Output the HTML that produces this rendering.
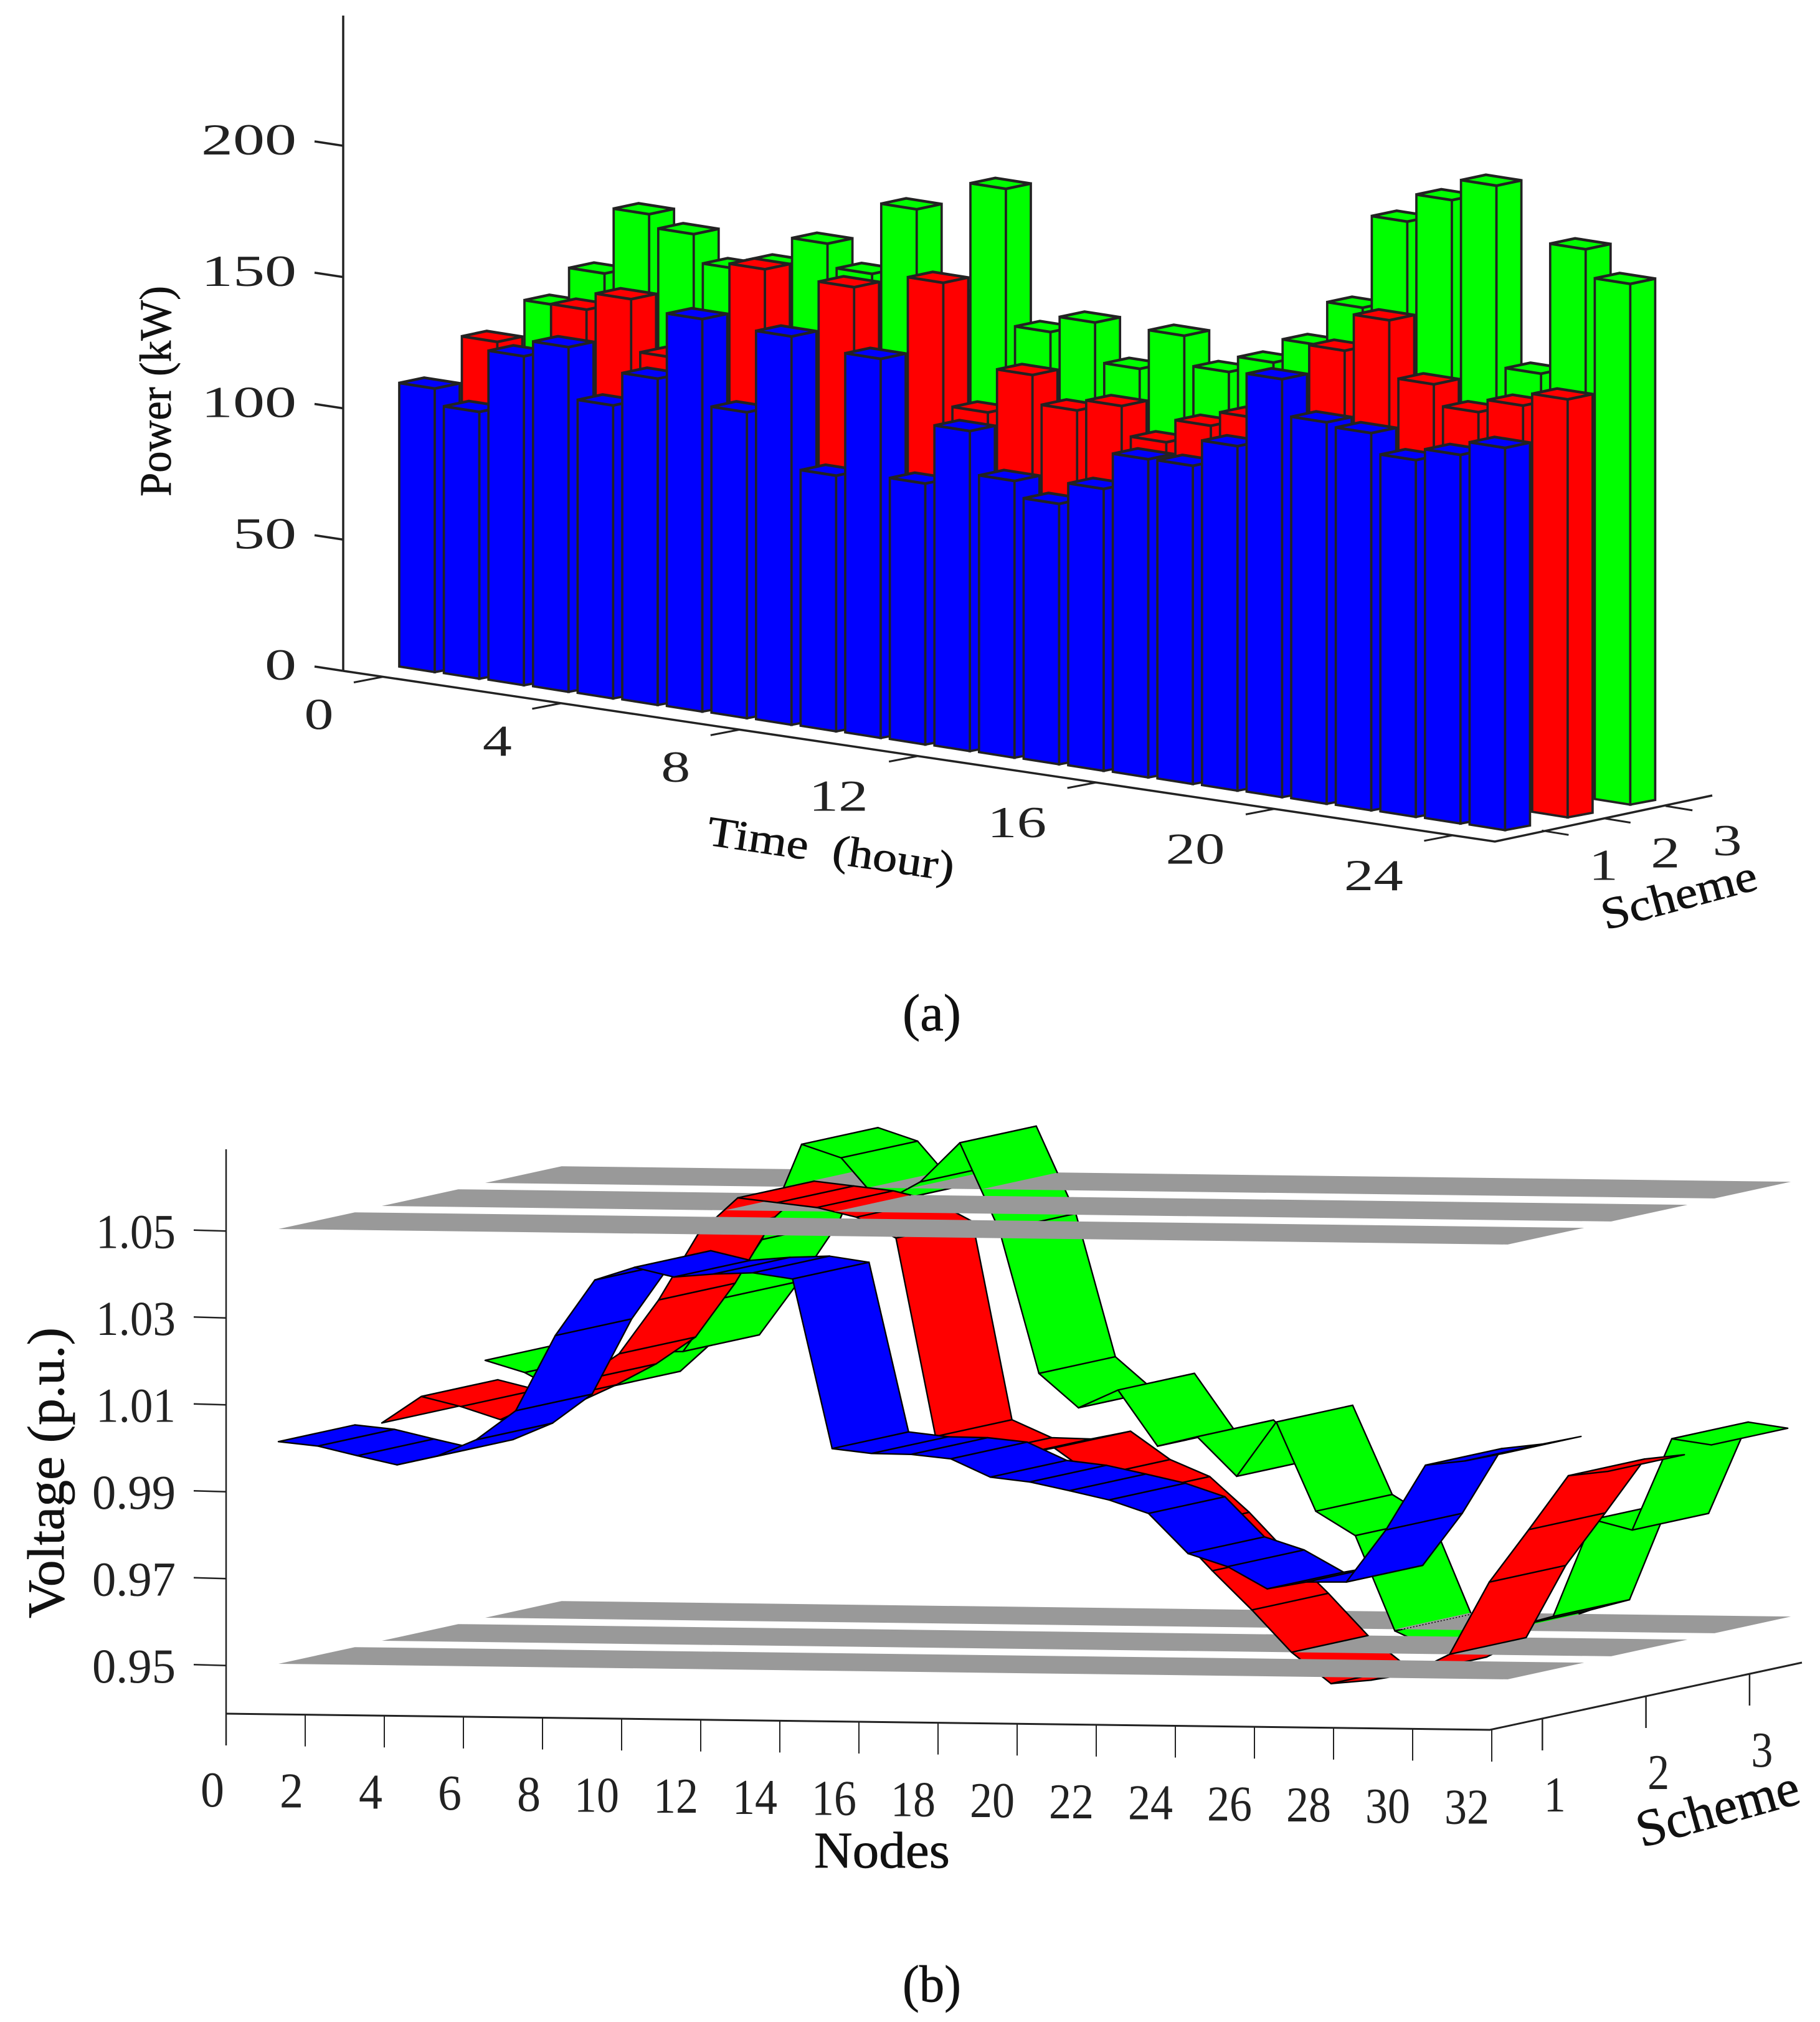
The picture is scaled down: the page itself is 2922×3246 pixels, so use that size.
<!DOCTYPE html>
<html lang="en">
<head>
<meta charset="utf-8">
<title>Power and voltage by scheme</title>
<style>
html,body{margin:0;padding:0;background:#fff;}
svg{display:block;}
text{font-family:"Liberation Serif",serif;fill:#222;}
.t{fill:#111;stroke:#111;stroke-width:0.7;}
</style>
</head>
<body>
<svg id="figure" xmlns="http://www.w3.org/2000/svg" width="2922" height="3246" viewBox="0 0 2922 3246">
  <rect width="2922" height="3246" fill="#fff"/>
  <g id="chartA"></g>
  <g id="chartB"></g>
  <text class="t" font-size="72" textLength="338" lengthAdjust="spacingAndGlyphs" transform="translate(274,797) rotate(-90)">Power (kW)</text>
  <text class="t" font-size="68" textLength="400" lengthAdjust="spacingAndGlyphs" xml:space="preserve" transform="translate(1133,1356) rotate(8.4)">Time  (hour)</text>
  <text class="t" font-size="72" textLength="256" lengthAdjust="spacingAndGlyphs" transform="translate(2578,1493) rotate(-15)">Scheme</text>
  <text class="t" font-size="84" textLength="94" lengthAdjust="spacingAndGlyphs" x="1449" y="1654">(a)</text>
  <text class="t" font-size="84" textLength="467" lengthAdjust="spacingAndGlyphs" transform="translate(102,2598) rotate(-90)">Voltage (p.u.)</text>
  <text class="t" font-size="83" textLength="218" lengthAdjust="spacingAndGlyphs" x="1307" y="2998">Nodes</text>
  <text class="t" font-size="84" textLength="268" lengthAdjust="spacingAndGlyphs" transform="translate(2636,2966) rotate(-15.6)">Scheme</text>
  <text class="t" font-size="84" textLength="94" lengthAdjust="spacingAndGlyphs" x="1449" y="3213">(b)</text>
</svg>
<script>
/* ---------- Panel (a) data ---------- */
const hourCategories = [1,2,3,4,5,6,7,8,9,10,11,12,13,14,15,16,17,18,19,20,21,22,23,24,25];
const powerScheme1 = [108,101.6,125.3,131.3,111.6,124.3,149.5,116.5,147.9,97.4,144.4,99.4,121.9,105.4,99.2,107.4,121.2,121.2,131.2,159.2,145.3,143.7,135.9,140.4,145.6];
const powerScheme2 = [120.9,109,138.2,144.7,124.8,123.9,163.6,126.6,161.8,124.4,168.5,121.6,138.4,127.4,131.6,120.3,129.1,134.6,142.3,165.2,179.3,157.4,149.3,154.3,159.2];
const powerScheme3 = [129.8,144.6,169.7,164.6,153.8,157.7,168.5,159.5,186.6,155.2,199.4,147.4,153.5,138.4,153.5,142.2,148.3,157.5,174.2,209.5,220.2,228.2,159.1,209,198.3];
const powerTicks = [0,50,100,150,200];
const timeTicks = [0,4,8,12,16,20,24];
const schemeTicks = [1,2,3];

/* ---------- Panel (b) data ---------- */
const nodeCategories = [1,2,3,4,5,6,7,8,9,10,11,12,13,14,15,16,17,18,19,20,21,22,23,24,25,26,27,28,29,30,31,32];
const voltageScheme1 = [1.0011,1.0002,0.9981,0.9961,0.9982,1.0021,1.0089,1.0263,1.0392,1.0422,1.0401,1.0409,1.0413,1.04,1.0011,1.0001,1.0,0.9991,0.995,0.994,0.9921,0.9901,0.9871,0.978,0.9751,0.9701,0.9718,0.9719,0.984,0.999,1.0001,1.002];
const voltageScheme2 = [1.0001,1.0063,1.0041,1.0012,1.0055,1.0104,1.0167,1.0292,1.0445,1.0529,1.0519,1.0509,1.0488,1.0441,0.9986,0.9946,0.9944,0.9963,0.9899,0.9861,0.978,0.9685,0.9596,0.95,0.9429,0.9438,0.9454,0.95,0.9667,0.9789,0.9914,0.9925];
const voltageScheme3 = [1.0092,1.0065,1.0017,1.0032,1.0115,1.0118,1.0242,1.0378,1.0598,1.0568,1.0464,1.0515,1.0606,1.0406,1.0078,1.0,1.0042,0.9914,0.9937,0.9847,0.9973,0.9769,0.9714,0.9496,0.9455,0.9476,0.9509,0.9534,0.9758,0.9735,0.9946,0.9933];
const voltageTicks = [1.05,1.03,1.01,0.99,0.97,0.95];
const voltageLabels = ['1.05','1.03','1.01','0.99','0.97','0.95'];
const nodeTicks = [0,2,4,6,8,10,12,14,16,18,20,22,24,26,28,30,32];
const voltageLimits = [0.95,1.05];

const SVGNS = 'http://www.w3.org/2000/svg';
function make(tag, parent, attrs, txt) {
  const el = document.createElementNS(SVGNS, tag);
  for (const k in attrs) el.setAttribute(k, attrs[k]);
  if (txt !== undefined) el.textContent = txt;
  if (parent) parent.appendChild(el);
  return el;
}
const INK = '#222';
const pts = a => a.map(p => p[0].toFixed(1) + ',' + p[1].toFixed(1)).join(' ');

/* ---------- Panel (a) axes ---------- */
const A = document.getElementById('chartA');
const powerY = v => 1077 - v * 4.215;
const floorAY = x => 1077 + 0.148 * (x - 551);
const timeX = h => 615 + 71.6 * h;
const schemeAX = s => 2376 + 99.4 * s;
const schemeAY = s => 1353 - 19.7 * s;
const barLeft = (h, s) => 641 + 71.6 * (h - 1) + 100.5 * s;
const barBase = (h, s) => 1070 + 10.57 * (h - 1) - 20.5 * s;
const barPx = v => v * 4.215;

let el = make('line', A, {x1:551,y1:25,x2:551,y2:1077,stroke:INK,'stroke-width':3.5});


el = make('polyline', A, {points:pts([[551,1077],[2400,1351],[2749,1277]]),fill:'none',stroke:INK,'stroke-width':3.5});



powerTicks.forEach(v => {
  const y = powerY(v);
  const t = make('line', A, {x1:505,y1:y-7,x2:551,y2:y,stroke:INK,'stroke-width':3.5});
  
  
  const s = String(v);
  const l = make('text', A, {x:476,y:y+14,'font-size':71,'text-anchor':'end',textLength:s.length*51,lengthAdjust:'spacingAndGlyphs'}, s);
  
  
});
timeTicks.forEach(h => {
  const x = timeX(h), y = floorAY(x);
  const t = make('line', A, {x1:x,y1:y,x2:x-47,y2:y+9,stroke:INK,'stroke-width':3});
  
  
  const s = String(h);
  const two = s.length > 1;
  const l = make('text', A, {x:x-(two?128:103),y:y+(two?88:84),'font-size':71,'text-anchor':'middle',textLength:two?95:47,lengthAdjust:'spacingAndGlyphs'}, s);
  
  
});
schemeTicks.forEach(k => {
  const x = schemeAX(k), y = schemeAY(k);
  const t = make('line', A, {x1:x,y1:y,x2:x+43,y2:y+7,stroke:INK,'stroke-width':3});
  
  
  const l = make('text', A, {x:x+99,y:y+79,'font-size':71,'text-anchor':'middle',textLength:47,lengthAdjust:'spacingAndGlyphs'}, String(k));
  
  
});

/* ---------- Panel (a) bars ---------- */
const powerSeries = [powerScheme1, powerScheme2, powerScheme3];
const seriesColors = ['#0000ff', '#ff0000', '#00ff00'];
[2, 1, 0].forEach(s => {
  hourCategories.forEach((h, idx) => {
    const v = powerSeries[s][idx];
    const x = barLeft(h, s), b = barBase(h, s), t = b - barPx(v);
    const g = make('g', A, {fill:seriesColors[s],stroke:INK,'stroke-width':3.7,'stroke-linejoin':'miter'});
    
    
    make('polygon', g, {points:pts([[x,t],[x+57,t+9],[x+57,b+9],[x,b]])});
    make('polygon', g, {points:pts([[x+57,t+9],[x+97,t+0.5],[x+97,b+1.5],[x+57,b+9]])});
    make('polygon', g, {'stroke-width':4.4,points:pts([[x,t],[x+57,t+9],[x+97,t+0.5],[x+40,t-8.5]])});
  });
});

/* ---------- Panel (b) axes ---------- */
const B = document.getElementById('chartB');
const voltY = v => 2673 - (v - 0.95) * 6975;
const nodeAxisX = n => 363 + 63.5 * n;
const floorBY = x => 2751 + 0.0128 * (x - 363);
const schemeBX = k => 2310 + 166.3 * k;
const schemeBY = k => 2795 - 36 * k;

el = make('line', B, {x1:363,y1:1845,x2:363,y2:2802,stroke:INK,'stroke-width':2.5});


el = make('polyline', B, {points:pts([[363,2751],[2392,2777],[2893,2669]]),fill:'none',stroke:INK,'stroke-width':3});



voltageTicks.forEach((v, i) => {
  const y = voltY(v);
  const t = make('line', B, {x1:311,y1:y-0.7,x2:363,y2:y+0.7,stroke:INK,'stroke-width':2.5});
  
  
  const l = make('text', B, {x:282,y:y+28,'font-size':78,'text-anchor':'end',textLength:v<1?134:128,lengthAdjust:'spacingAndGlyphs'}, voltageLabels[i]);
  
  
});
nodeTicks.forEach(n => {
  const x = nodeAxisX(n), y = floorBY(x);
  const t = make('line', B, {x1:x,y1:y,x2:x,y2:y+51,stroke:INK,'stroke-width':2});
  
  
  const s = String(n), two = s.length > 1;
  const cx = x - (two ? 40 : 22);
  const l = make('text', B, {x:cx,y:2900+0.0137*(cx-341),'font-size':81,'text-anchor':'middle',textLength:two?72:38,lengthAdjust:'spacingAndGlyphs'}, s);
  
  
});
schemeTicks.forEach(k => {
  const x = schemeBX(k), y = schemeBY(k);
  const t = make('line', B, {x1:x,y1:y,x2:x,y2:y+51,stroke:INK,'stroke-width':2.5});
  
  
  const l = make('text', B, {x:x+20,y:y+149,'font-size':81,'text-anchor':'middle',textLength:35,lengthAdjust:'spacingAndGlyphs'}, String(k));
  
  
});

/* ---------- Panel (b) ribbons and limit planes ---------- */
const voltageSeries = [voltageScheme1, voltageScheme2, voltageScheme3];
const CX = 122.7, CY = -26.8;
const nodeX = (i, s) => 447 + 63.5 * i + 166 * s;
const nodeY = (i, s, v) => 2671 + 0.8 * i - 37 * s - (v - 0.95) * 6980;
const edgeL = (i, s, v) => [nodeX(i, s), nodeY(i, s, v)];
const edgeR = (i, s, v) => [nodeX(i, s) + CX, nodeY(i, s, v) + CY];

function drawPlane(s, v) {
  const last = nodeCategories.length - 1 + 0.08;
  const p = [edgeL(0, s, v), edgeR(0, s, v), edgeR(last, s, v), edgeL(last, s, v)];
  const plane = make('polygon', B, {points:pts(p),fill:'#999999'});
  
  
}
function drawPiece(pc, s) {
  const g = make('g', B, {});
  
  
  make('polygon', g, {points:pts(pc.poly),fill:seriesColors[s],stroke:seriesColors[s],'stroke-width':0.6});
  make('path', g, {d:pc.edges,fill:'none',stroke:'#000','stroke-width':2.4,'stroke-linecap':'round'});
}
function seg(a, b) {
  return 'M' + a[0].toFixed(1) + ' ' + a[1].toFixed(1) + 'L' + b[0].toFixed(1) + ' ' + b[1].toFixed(1);
}
function splitQuad(i, s, vals) {
  const v0 = vals[i], v1 = vals[i + 1];
  const ts = [0, 1];
  voltageLimits.forEach(lim => {
    if ((v0 - lim) * (v1 - lim) < 0) ts.push((lim - v0) / (v1 - v0));
  });
  ts.sort((a, b) => a - b);
  const out = [];
  for (let k = 0; k < ts.length - 1; k++) {
    const ta = ts[k], tb = ts[k + 1];
    const va = v0 + (v1 - v0) * ta, vb = v0 + (v1 - v0) * tb;
    const La = edgeL(i + ta, s, va), Lb = edgeL(i + tb, s, vb);
    const Ra = edgeR(i + ta, s, va), Rb = edgeR(i + tb, s, vb);
    let edges = seg(La, Lb) + seg(Ra, Rb);
    if (ta === 0) edges += seg(La, Ra);
    if (tb === 1) edges += seg(Lb, Rb);
    out.push({poly:[La, Lb, Rb, Ra], edges:edges, avg:(va + vb) / 2, ta:ta});
  }
  return out;
}
[2, 1, 0].forEach(s => {
  const vals = voltageSeries[s];
  const below = [], mid = [], above = [];
  for (let i = 0; i < vals.length - 1; i++) {
    splitQuad(i, s, vals).forEach(pc => {
      if (pc.avg < voltageLimits[0]) below.push(pc);
      else if (pc.avg > voltageLimits[1]) above.push(pc);
      else mid.push(pc);
    });
  }
  below.forEach(pc => drawPiece(pc, s));
  drawPlane(s, voltageLimits[0]);
  if (s === 2) {
    const lowIdx = vals.findIndex((v, i) => i > 0 && v < voltageLimits[0]);
    const a = edgeL(lowIdx, s, vals[lowIdx]), b = edgeR(lowIdx, s, vals[lowIdx]);
    const dots = make('line', B, {x1:a[0],y1:a[1],x2:b[0],y2:b[1],stroke:'#000','stroke-width':1.5,'stroke-dasharray':'2 3'});
    
    
  }
  mid.forEach(pc => drawPiece(pc, s));
  drawPlane(s, voltageLimits[1]);
  above.forEach(pc => drawPiece(pc, s));
});
</script>
</body>
</html>
